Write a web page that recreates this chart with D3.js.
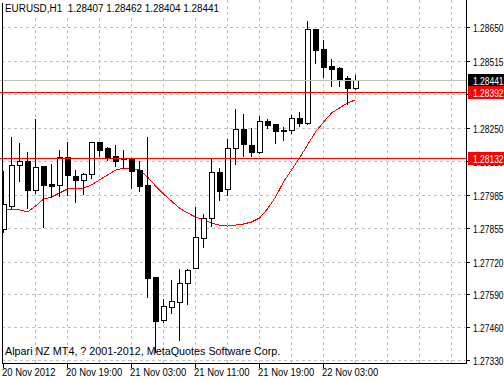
<!DOCTYPE html>
<html>
<head>
<meta charset="utf-8">
<script src="https://cdn.jsdelivr.net/npm/d3@7/dist/d3.min.js"></script>
<style>
  body { margin: 0; background: #fff; }
  text { font-family: "Liberation Sans", Arial, sans-serif; font-size: 11px; }
</style>
</head>
<body>
<div id="chart"></div>
<script>
// Size of the picture
var width = 504;
var height = 380;

// Texts
var headerText = "EURUSD,H1  1.28407 1.28462 1.28404 1.28441";
var copyright = "Alpari NZ MT4, ? 2001-2012, MetaQuotes Software Corp.";

// H1 candles
var opens = [1.27849, 1.27940, 1.28103, 1.28119, 1.28004, 1.28099, 1.28028, 1.28024, 1.28135, 1.28059,
             1.28044, 1.28067, 1.28194, 1.28170, 1.28139, 1.28131, 1.28131, 1.28083, 1.28024, 1.27659,
             1.27489, 1.27540, 1.27560, 1.27635, 1.27695, 1.27814, 1.27893, 1.28075, 1.28008, 1.28170,
             1.28246, 1.28182, 1.28154, 1.28277, 1.28265, 1.28242, 1.28242, 1.28289, 1.28269, 1.28642,
             1.28563, 1.28495, 1.28487, 1.28448, 1.28407];
var highs = [1.28083, 1.28218, 1.28194, 1.28158, 1.28289, 1.28103, 1.28111, 1.28166, 1.28198, 1.28087,
             1.28075, 1.28194, 1.28198, 1.28178, 1.28186, 1.28166, 1.28135, 1.28123, 1.28218, 1.27663,
             1.27576, 1.27651, 1.27695, 1.27695, 1.27940, 1.27913, 1.28135, 1.28095, 1.28210, 1.28329,
             1.28309, 1.28254, 1.28301, 1.28289, 1.28265, 1.28258, 1.28305, 1.28317, 1.28678, 1.28642,
             1.28602, 1.28527, 1.28495, 1.28460, 1.28462];
var lows = [1.27837, 1.27932, 1.28040, 1.27932, 1.27992, 1.27857, 1.27976, 1.27980, 1.27984, 1.27956,
            1.27988, 1.28051, 1.28139, 1.28123, 1.28099, 1.28091, 1.28012, 1.28000, 1.27580, 1.27362,
            1.27481, 1.27516, 1.27409, 1.27552, 1.27695, 1.27778, 1.27861, 1.27964, 1.27984, 1.28107,
            1.28139, 1.28139, 1.28150, 1.28250, 1.28190, 1.28202, 1.28230, 1.28258, 1.28265, 1.28507,
            1.28452, 1.28416, 1.28416, 1.28345, 1.28404];
var closes = [1.27948, 1.28103, 1.28119, 1.28004, 1.28095, 1.28024, 1.28020, 1.28135, 1.28063, 1.28044,
              1.28067, 1.28194, 1.28162, 1.28135, 1.28119, 1.28127, 1.28079, 1.28020, 1.27655, 1.27485,
              1.27544, 1.27564, 1.27635, 1.27687, 1.27818, 1.27893, 1.28075, 1.28000, 1.28170, 1.28246,
              1.28186, 1.28154, 1.28277, 1.28262, 1.28238, 1.28238, 1.28289, 1.28269, 1.28642, 1.28559,
              1.28491, 1.28483, 1.28444, 1.28407, 1.28441];

// Moving average (red line)
var movingAvg = [1.27925, 1.27925, 1.27925, 1.27917, 1.27940, 1.27968, 1.27976, 1.27992, 1.28008, 1.28008,
                 1.28012, 1.28024, 1.28044, 1.28063, 1.28083, 1.28091, 1.28091, 1.28083, 1.28055, 1.28020,
                 1.27988, 1.27960, 1.27932, 1.27913, 1.27897, 1.27885, 1.27873, 1.27865, 1.27861, 1.27865,
                 1.27869, 1.27877, 1.27893, 1.27929, 1.27976, 1.28036, 1.28083, 1.28131, 1.28182, 1.28234,
                 1.28273, 1.28309, 1.28329, 1.28349, 1.28361];

// Price scale labels
var priceTicks = [1.28650, 1.28515, 1.28385, 1.28250, 1.28120, 1.27985, 1.27855, 1.27720, 1.27590, 1.27460, 1.27330];

// Time scale labels and the bar they sit on
var timeLabels = ["20 Nov 2012", "20 Nov 19:00", "21 Nov 03:00", "21 Nov 11:00", "21 Nov 19:00", "22 Nov 03:00"];
var timeBars = [0, 8, 16, 24, 32, 40];

// Horizontal lines
var levelLines = [1.28392, 1.28132];
var bidPrice = 1.28441;

// Plot frame
var left = 2, right = 466, bottom = 363;

var svg = d3.select("#chart").append("svg")
    .attr("width", width)
    .attr("height", height)
    .style("display", "block");

var x = d3.scaleLinear().domain([0, 58]).range([3.5, 467.5]);
var y = d3.scaleLinear().domain([1.2733, 1.2865]).range([360, 27]);

// snap to pixel centre so 1px lines stay sharp
function py(v) { return Math.round(y(v)) + 0.5; }

// MT4's terminal font is much narrower than Liberation Sans,
// so texts are placed with a transform and squeezed horizontally
function squeeze(sel, factor) {
  sel.each(function() {
    var t = d3.select(this);
    var tx = +t.attr("x"), ty = +t.attr("y");
    t.attr("x", 0).attr("y", 0)
      .attr("transform", "translate(" + tx + "," + ty + ") scale(" + factor + ",1)");
  });
}

svg.append("clipPath").attr("id", "plotClip")
  .append("rect")
    .attr("x", left + 1).attr("y", 0)
    .attr("width", right - left - 1).attr("height", bottom);

var plot = svg.append("g").attr("clip-path", "url(#plotClip)");

// Grid
var gridBars = d3.range(4, 58, 4);
plot.selectAll(".vgrid").data(gridBars)
  .enter().append("line")
    .attr("class", "vgrid")
    .attr("x1", function(d) { return Math.floor(x(d)) + 0.5; })
    .attr("x2", function(d) { return Math.floor(x(d)) + 0.5; })
    .attr("y1", 0).attr("y2", bottom)
    .attr("stroke", "#c0c0c0")
    .attr("stroke-dasharray", "3,3")
    .attr("shape-rendering", "crispEdges");

plot.selectAll(".hgrid").data(priceTicks)
  .enter().append("line")
    .attr("class", "hgrid")
    .attr("x1", left).attr("x2", right)
    .attr("y1", py).attr("y2", py)
    .attr("stroke", "#c0c0c0")
    .attr("stroke-dasharray", "3,3")
    .attr("shape-rendering", "crispEdges");

// Bid line and the two red level lines
svg.append("line")
    .attr("x1", 0).attr("x2", right)
    .attr("y1", py(bidPrice)).attr("y2", py(bidPrice))
    .attr("stroke", "#c0c0c0")
    .attr("shape-rendering", "crispEdges");

svg.selectAll(".level").data(levelLines)
  .enter().append("line")
    .attr("class", "level")
    .attr("x1", 0).attr("x2", right)
    .attr("y1", py).attr("y2", py)
    .attr("stroke", "#ff0000")
    .attr("shape-rendering", "crispEdges");

// Moving average
var line = d3.line()
    .x(function(d, i) { return x(i); })
    .y(function(d) { return y(d); });

plot.append("path")
    .datum(movingAvg)
    .attr("d", line)
    .attr("fill", "none")
    .attr("stroke", "#ff0000")
    .attr("stroke-width", 1)
    .attr("shape-rendering", "crispEdges");

// Candles
var bars = d3.range(opens.length);

plot.selectAll(".wick").data(bars)
  .enter().append("line")
    .attr("class", "wick")
    .attr("x1", function(i) { return x(i); })
    .attr("x2", function(i) { return x(i); })
    .attr("y1", function(i) { return py(highs[i]); })
    .attr("y2", function(i) { return py(lows[i]) + 0.5; })
    .attr("stroke", "#000")
    .attr("shape-rendering", "crispEdges");

plot.selectAll(".body").data(bars)
  .enter().append("rect")
    .attr("class", "body")
    .attr("x", function(i) { return x(i) - 2; })
    .attr("width", 5)
    .attr("y", function(i) { return py(Math.max(opens[i], closes[i])); })
    .attr("height", function(i) {
      return Math.max(1, py(Math.min(opens[i], closes[i])) - py(Math.max(opens[i], closes[i])));
    })
    .attr("fill", function(i) { return closes[i] >= opens[i] ? "#fff" : "#000"; })
    .attr("stroke", "#000")
    .attr("shape-rendering", "crispEdges");

// Header with white background
var header = svg.append("g");
header.append("rect")
    .attr("x", left + 1).attr("y", 0)
    .attr("width", 206).attr("height", 15)
    .attr("fill", "#fff");
header.append("text")
    .attr("x", 5).attr("y", 12)
    .style("white-space", "pre")
    .text(headerText)
    .call(squeeze, 0.9);

svg.append("text")
    .attr("x", 5).attr("y", 355)
    .text(copyright)
    .call(squeeze, 0.98);

// Frame
svg.append("path")
    .attr("d", "M" + (left + 0.5) + ",3V" + (bottom + 0.5) + "H" + (right + 0.5) + "V0")
    .attr("fill", "none")
    .attr("stroke", "#000")
    .attr("shape-rendering", "crispEdges");

// Price axis
var pAxis = svg.append("g");
pAxis.selectAll("line").data(priceTicks)
  .enter().append("line")
    .attr("x1", right).attr("x2", right + 4)
    .attr("y1", py).attr("y2", py)
    .attr("stroke", "#000")
    .attr("shape-rendering", "crispEdges");
pAxis.selectAll("text").data(priceTicks)
  .enter().append("text")
    .attr("x", right + 7)
    .attr("y", function(d) { return py(d) + 4; })
    .text(function(d) { return d.toFixed(5); })
    .call(squeeze, 0.77);

// Time axis
var tAxis = svg.append("g");
tAxis.selectAll("line").data(timeBars)
  .enter().append("line")
    .attr("x1", function(d) { return Math.floor(x(d)) + 0.5; })
    .attr("x2", function(d) { return Math.floor(x(d)) + 0.5; })
    .attr("y1", bottom).attr("y2", bottom + 5)
    .attr("stroke", "#000")
    .attr("shape-rendering", "crispEdges");
tAxis.selectAll("text").data(timeBars)
  .enter().append("text")
    .attr("x", function(d) { return x(d) - 1.5; })
    .attr("y", 376)
    .text(function(d, i) { return timeLabels[i]; })
    .call(squeeze, 0.86);

// Price labels on the axis
function priceLabel(v, bg) {
  var yy = py(v);
  svg.append("rect")
    .attr("x", right + 2).attr("y", yy - 6.5)
    .attr("width", width - right - 2).attr("height", 13)
    .attr("fill", bg);
  svg.append("text")
    .attr("x", right + 7).attr("y", yy + 4)
    .attr("fill", "#fff")
    .text(v.toFixed(5))
    .call(squeeze, 0.77);
}
priceLabel(bidPrice, "#000");
levelLines.forEach(function(v) { priceLabel(v, "#ff0000"); });
</script>
</body>
</html>
